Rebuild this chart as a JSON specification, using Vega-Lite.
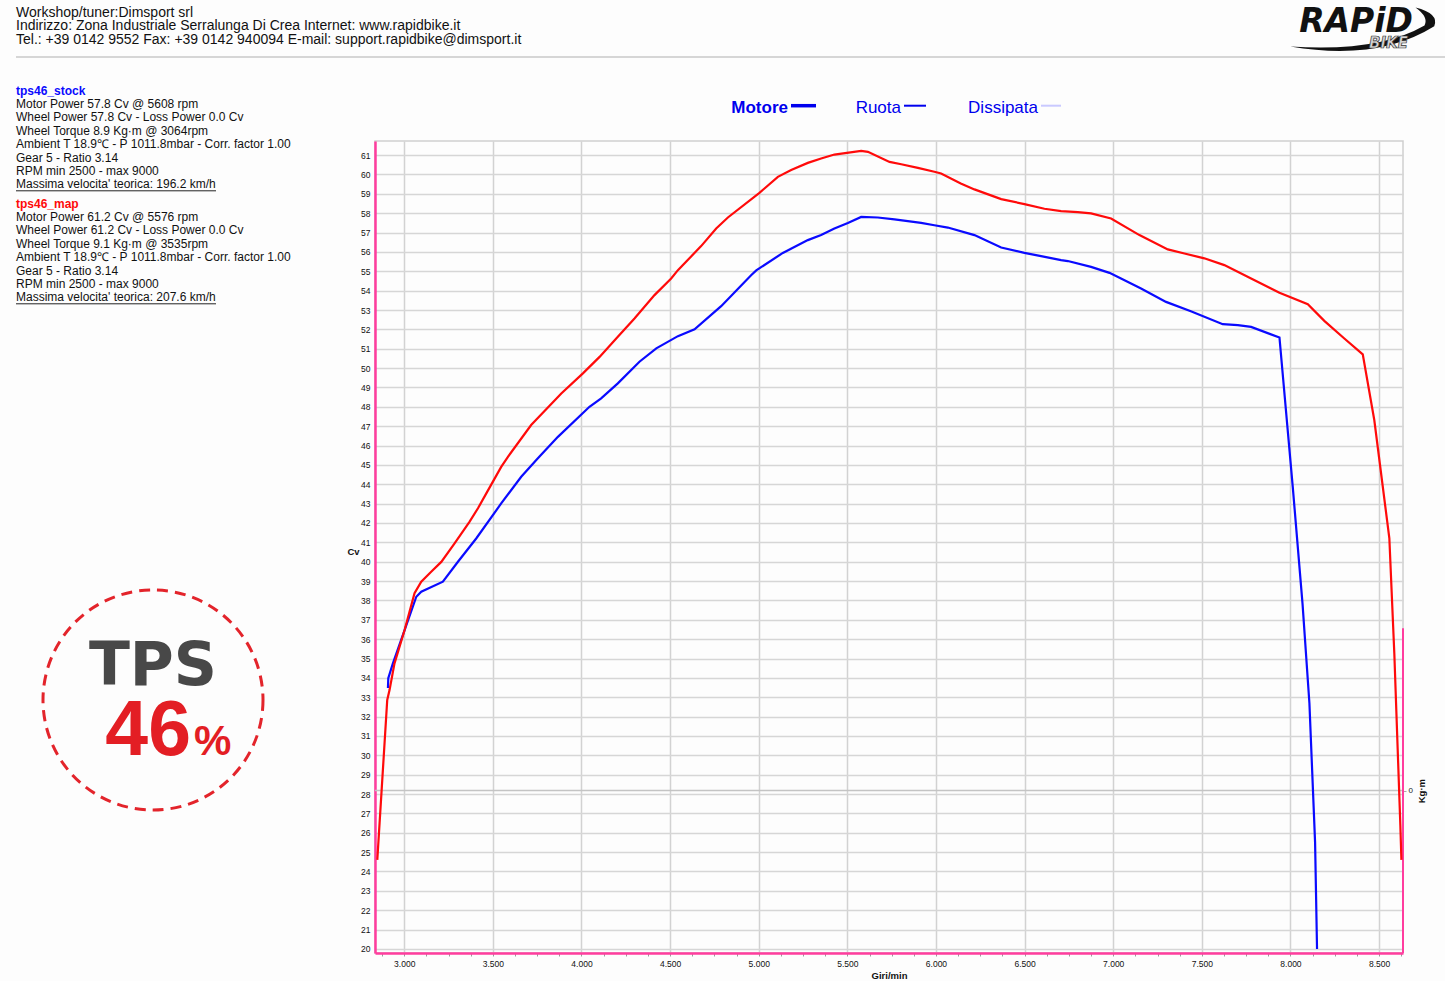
{
  "$schema": "https://vega.github.io/schema/vega-lite/v6.json",
  "background": "#fdfdfd",
  "padding": {"left": 15, "top": 0, "right": 0, "bottom": 0},
  "config": {
    "view": {"stroke": null},
    "font": "Liberation Sans",
    "axis": {"labelFont": "Liberation Sans", "titleFont": "Liberation Sans"}
  },
  "datasets": {
    "header": [
      {"side": "left", "line": 0, "text": "Workshop/tuner:Dimsport srl"},
      {"side": "left", "line": 1, "text": "Indirizzo: Zona Industriale Serralunga Di Crea Internet: www.rapidbike.it"},
      {"side": "left", "line": 2, "text": "Tel.: +39 0142 9552 Fax: +39 0142 940094 E-mail: support.rapidbike@dimsport.it"}
    ],
    "logo": [
      {"side": "right", "part": "word", "text": "RAPiD"},
      {"side": "right", "part": "sub", "text": "BIKE"},
      {"side": "right", "part": "swoosh", "text": ""}
    ],
    "separator": [{"element": "separator"}],
    "info": [
      {"block": "tps46_stock", "line": 0, "text": "tps46_stock"},
      {"block": "tps46_stock", "line": 1, "text": "Motor Power 57.8 Cv  @ 5608 rpm"},
      {"block": "tps46_stock", "line": 2, "text": "Wheel Power 57.8 Cv  - Loss Power 0.0 Cv"},
      {"block": "tps46_stock", "line": 3, "text": "Wheel Torque 8.9 Kg·m  @ 3064rpm"},
      {"block": "tps46_stock", "line": 4, "text": "Ambient T 18.9℃ - P 1011.8mbar - Corr. factor 1.00"},
      {"block": "tps46_stock", "line": 5, "text": "Gear 5 - Ratio 3.14"},
      {"block": "tps46_stock", "line": 6, "text": "RPM min 2500 - max 9000"},
      {"block": "tps46_stock", "line": 7, "text": "Massima velocita' teorica: 196.2 km/h"},
      {"block": "tps46_map", "line": 0, "text": "tps46_map"},
      {"block": "tps46_map", "line": 1, "text": "Motor Power 61.2 Cv  @ 5576 rpm"},
      {"block": "tps46_map", "line": 2, "text": "Wheel Power 61.2 Cv  - Loss Power 0.0 Cv"},
      {"block": "tps46_map", "line": 3, "text": "Wheel Torque 9.1 Kg·m  @ 3535rpm"},
      {"block": "tps46_map", "line": 4, "text": "Ambient T 18.9℃ - P 1011.8mbar - Corr. factor 1.00"},
      {"block": "tps46_map", "line": 5, "text": "Gear 5 - Ratio 3.14"},
      {"block": "tps46_map", "line": 6, "text": "RPM min 2500 - max 9000"},
      {"block": "tps46_map", "line": 7, "text": "Massima velocita' teorica: 207.6 km/h"}
    ],
    "badge": [
      {"part": "ring", "label": ""},
      {"part": "word", "label": "TPS"},
      {"part": "number", "label": "46"},
      {"part": "unit", "label": "%"}
    ],
    "legend": [
      {"item": "Motore"},
      {"item": "Ruota"},
      {"item": "Dissipata"}
    ],
    "torque": [{"kgm": 0}],
    "torqueAxis": [{"kgm_low": -2, "kgm_high": 2}],
    "curves": [
      {"run": "tps46_stock", "rpm": 2908, "cv": 33.48},
      {"run": "tps46_stock", "rpm": 2910, "cv": 33.98},
      {"run": "tps46_stock", "rpm": 2936, "cv": 34.75},
      {"run": "tps46_stock", "rpm": 3002, "cv": 36.47},
      {"run": "tps46_stock", "rpm": 3068, "cv": 38.19},
      {"run": "tps46_stock", "rpm": 3096, "cv": 38.45},
      {"run": "tps46_stock", "rpm": 3218, "cv": 38.97},
      {"run": "tps46_stock", "rpm": 3303, "cv": 40.0},
      {"run": "tps46_stock", "rpm": 3406, "cv": 41.2},
      {"run": "tps46_stock", "rpm": 3547, "cv": 43.01},
      {"run": "tps46_stock", "rpm": 3660, "cv": 44.39},
      {"run": "tps46_stock", "rpm": 3754, "cv": 45.34},
      {"run": "tps46_stock", "rpm": 3867, "cv": 46.45},
      {"run": "tps46_stock", "rpm": 4045, "cv": 48.0},
      {"run": "tps46_stock", "rpm": 4111, "cv": 48.44},
      {"run": "tps46_stock", "rpm": 4205, "cv": 49.21},
      {"run": "tps46_stock", "rpm": 4327, "cv": 50.33},
      {"run": "tps46_stock", "rpm": 4422, "cv": 51.02},
      {"run": "tps46_stock", "rpm": 4544, "cv": 51.65},
      {"run": "tps46_stock", "rpm": 4638, "cv": 52.0},
      {"run": "tps46_stock", "rpm": 4788, "cv": 53.2},
      {"run": "tps46_stock", "rpm": 4957, "cv": 54.8},
      {"run": "tps46_stock", "rpm": 4986, "cv": 55.05},
      {"run": "tps46_stock", "rpm": 5136, "cv": 55.95},
      {"run": "tps46_stock", "rpm": 5277, "cv": 56.61},
      {"run": "tps46_stock", "rpm": 5352, "cv": 56.87},
      {"run": "tps46_stock", "rpm": 5427, "cv": 57.21},
      {"run": "tps46_stock", "rpm": 5503, "cv": 57.5},
      {"run": "tps46_stock", "rpm": 5578, "cv": 57.81},
      {"run": "tps46_stock", "rpm": 5672, "cv": 57.78},
      {"run": "tps46_stock", "rpm": 5766, "cv": 57.68},
      {"run": "tps46_stock", "rpm": 5916, "cv": 57.5},
      {"run": "tps46_stock", "rpm": 5991, "cv": 57.38},
      {"run": "tps46_stock", "rpm": 6067, "cv": 57.26},
      {"run": "tps46_stock", "rpm": 6217, "cv": 56.87},
      {"run": "tps46_stock", "rpm": 6368, "cv": 56.23},
      {"run": "tps46_stock", "rpm": 6499, "cv": 55.95},
      {"run": "tps46_stock", "rpm": 6593, "cv": 55.78},
      {"run": "tps46_stock", "rpm": 6706, "cv": 55.58},
      {"run": "tps46_stock", "rpm": 6744, "cv": 55.53},
      {"run": "tps46_stock", "rpm": 6875, "cv": 55.23},
      {"run": "tps46_stock", "rpm": 6979, "cv": 54.92},
      {"run": "tps46_stock", "rpm": 7044, "cv": 54.63},
      {"run": "tps46_stock", "rpm": 7157, "cv": 54.11},
      {"run": "tps46_stock", "rpm": 7298, "cv": 53.42},
      {"run": "tps46_stock", "rpm": 7438, "cv": 52.94},
      {"run": "tps46_stock", "rpm": 7618, "cv": 52.27},
      {"run": "tps46_stock", "rpm": 7703, "cv": 52.22},
      {"run": "tps46_stock", "rpm": 7778, "cv": 52.13},
      {"run": "tps46_stock", "rpm": 7938, "cv": 51.58},
      {"run": "tps46_stock", "rpm": 8013, "cv": 43.87},
      {"run": "tps46_stock", "rpm": 8068, "cv": 37.85},
      {"run": "tps46_stock", "rpm": 8107, "cv": 32.69},
      {"run": "tps46_stock", "rpm": 8139, "cv": 25.49},
      {"run": "tps46_stock", "rpm": 8150, "cv": 20.0},
      {"run": "tps46_map", "rpm": 2848, "cv": 24.6},
      {"run": "tps46_map", "rpm": 2904, "cv": 32.86},
      {"run": "tps46_map", "rpm": 2917, "cv": 33.37},
      {"run": "tps46_map", "rpm": 2945, "cv": 34.75},
      {"run": "tps46_map", "rpm": 3002, "cv": 36.47},
      {"run": "tps46_map", "rpm": 3058, "cv": 38.37},
      {"run": "tps46_map", "rpm": 3096, "cv": 38.97},
      {"run": "tps46_map", "rpm": 3152, "cv": 39.48},
      {"run": "tps46_map", "rpm": 3209, "cv": 39.99},
      {"run": "tps46_map", "rpm": 3284, "cv": 40.95},
      {"run": "tps46_map", "rpm": 3368, "cv": 42.06},
      {"run": "tps46_map", "rpm": 3416, "cv": 42.76},
      {"run": "tps46_map", "rpm": 3463, "cv": 43.53},
      {"run": "tps46_map", "rpm": 3547, "cv": 44.9},
      {"run": "tps46_map", "rpm": 3585, "cv": 45.42},
      {"run": "tps46_map", "rpm": 3716, "cv": 47.06},
      {"run": "tps46_map", "rpm": 3886, "cv": 48.69},
      {"run": "tps46_map", "rpm": 4008, "cv": 49.73},
      {"run": "tps46_map", "rpm": 4102, "cv": 50.58},
      {"run": "tps46_map", "rpm": 4205, "cv": 51.62},
      {"run": "tps46_map", "rpm": 4299, "cv": 52.56},
      {"run": "tps46_map", "rpm": 4412, "cv": 53.77},
      {"run": "tps46_map", "rpm": 4506, "cv": 54.63},
      {"run": "tps46_map", "rpm": 4544, "cv": 55.06},
      {"run": "tps46_map", "rpm": 4675, "cv": 56.3},
      {"run": "tps46_map", "rpm": 4760, "cv": 57.21},
      {"run": "tps46_map", "rpm": 4826, "cv": 57.78},
      {"run": "tps46_map", "rpm": 5004, "cv": 59.05},
      {"run": "tps46_map", "rpm": 5108, "cv": 59.88},
      {"run": "tps46_map", "rpm": 5183, "cv": 60.23},
      {"run": "tps46_map", "rpm": 5277, "cv": 60.6},
      {"run": "tps46_map", "rpm": 5352, "cv": 60.83},
      {"run": "tps46_map", "rpm": 5427, "cv": 61.03},
      {"run": "tps46_map", "rpm": 5578, "cv": 61.22},
      {"run": "tps46_map", "rpm": 5616, "cv": 61.17},
      {"run": "tps46_map", "rpm": 5738, "cv": 60.65},
      {"run": "tps46_map", "rpm": 5804, "cv": 60.53},
      {"run": "tps46_map", "rpm": 5898, "cv": 60.34},
      {"run": "tps46_map", "rpm": 5991, "cv": 60.14},
      {"run": "tps46_map", "rpm": 6029, "cv": 60.05},
      {"run": "tps46_map", "rpm": 6140, "cv": 59.54},
      {"run": "tps46_map", "rpm": 6217, "cv": 59.23},
      {"run": "tps46_map", "rpm": 6368, "cv": 58.73},
      {"run": "tps46_map", "rpm": 6499, "cv": 58.47},
      {"run": "tps46_map", "rpm": 6612, "cv": 58.23},
      {"run": "tps46_map", "rpm": 6706, "cv": 58.11},
      {"run": "tps46_map", "rpm": 6800, "cv": 58.06},
      {"run": "tps46_map", "rpm": 6875, "cv": 57.99},
      {"run": "tps46_map", "rpm": 6988, "cv": 57.73},
      {"run": "tps46_map", "rpm": 7148, "cv": 56.87},
      {"run": "tps46_map", "rpm": 7308, "cv": 56.13},
      {"run": "tps46_map", "rpm": 7402, "cv": 55.92},
      {"run": "tps46_map", "rpm": 7514, "cv": 55.67},
      {"run": "tps46_map", "rpm": 7627, "cv": 55.32},
      {"run": "tps46_map", "rpm": 7778, "cv": 54.63},
      {"run": "tps46_map", "rpm": 7938, "cv": 53.89},
      {"run": "tps46_map", "rpm": 8098, "cv": 53.3},
      {"run": "tps46_map", "rpm": 8191, "cv": 52.44},
      {"run": "tps46_map", "rpm": 8304, "cv": 51.53},
      {"run": "tps46_map", "rpm": 8408, "cv": 50.71},
      {"run": "tps46_map", "rpm": 8473, "cv": 47.32},
      {"run": "tps46_map", "rpm": 8558, "cv": 41.21},
      {"run": "tps46_map", "rpm": 8586, "cv": 35.27},
      {"run": "tps46_map", "rpm": 8620, "cv": 26.4},
      {"run": "tps46_map", "rpm": 8626, "cv": 24.6}
    ]
  },
  "spacing": 0,
  "bounds": "flush",
  "vconcat": [
    {
      "width": 1430,
      "height": 56,
      "layer": [
        {
          "data": {"name": "header"},
          "mark": {"type": "text", "align": "left", "baseline": "middle", "fontSize": 14, "color": "#111111"},
          "encoding": {
            "x": {"field": "side", "type": "nominal", "scale": {"type": "point", "domain": ["left", "right"], "padding": 0}, "axis": null},
            "y": {"field": "line", "type": "quantitative", "scale": {"domain": [0, 2], "range": [12.5, 39.5]}, "axis": null},
            "text": {"field": "text"}
          }
        },
        {
          "data": {"name": "logo"},
          "transform": [{"filter": "datum.part === 'swoosh'"}],
          "mark": {"type": "point", "shape": "M -0.97 0.22 Q 0.2 0.42 0.95 -0.05 Q 1.02 -0.22 0.7 -0.3 Q 0.88 -0.17 0.82 -0.06 Q 0.2 0.3 -0.97 0.22 Z", "filled": true, "color": "#111111", "size": 22500, "opacity": 1, "xOffset": -83, "yOffset": 2},
          "encoding": {
            "x": {"field": "side", "type": "nominal", "scale": {"type": "point", "domain": ["left", "right"], "padding": 0}, "axis": null}
          }
        },
        {
          "data": {"name": "logo"},
          "transform": [{"filter": "datum.part === 'word'"}],
          "mark": {"type": "text", "align": "right", "baseline": "alphabetic", "font": "DejaVu Sans", "fontSize": 33, "fontWeight": "bold", "fontStyle": "italic", "color": "#111111", "dx": -33, "dy": 4},
          "encoding": {
            "x": {"field": "side", "type": "nominal", "scale": {"type": "point", "domain": ["left", "right"], "padding": 0}, "axis": null},
            "text": {"field": "text"}
          }
        },
        {
          "data": {"name": "logo"},
          "transform": [{"filter": "datum.part === 'sub'"}],
          "mark": {"type": "text", "align": "right", "baseline": "alphabetic", "font": "DejaVu Sans", "fontSize": 15, "fontWeight": "bold", "fontStyle": "italic", "fill": "#d4d4d4", "stroke": "#333333", "strokeWidth": 0.7, "dx": -38, "dy": 20},
          "encoding": {
            "x": {"field": "side", "type": "nominal", "scale": {"type": "point", "domain": ["left", "right"], "padding": 0}, "axis": null},
            "text": {"field": "text"}
          }
        }
      ]
    },
    {
      "width": 1430,
      "height": 2,
      "data": {"name": "separator"},
      "mark": {"type": "rect", "color": "#d6d6d6"},
      "encoding": {}
    },
    {
      "columns": 2,
      "spacing": {"row": 0, "column": 85},
      "bounds": "flush",
      "concat": [
        {
          "width": 200,
          "height": 83,
          "data": {"name": "info"},
          "resolve": {"scale": {"x": "independent", "y": "independent"}},
          "layer": [
            {
              "transform": [{"filter": "datum.block === 'tps46_stock' && datum.line === 0"}],
              "mark": {"type": "text", "align": "left", "baseline": "middle", "fontSize": 12, "fontWeight": "bold", "color": "#0a0aff"},
              "encoding": {
                "x": {"field": "block", "type": "nominal", "scale": {"type": "point", "padding": 0, "align": 0}, "axis": null},
                "y": {"field": "line", "type": "quantitative", "scale": {"domain": [0, 7], "range": [32.5, 126.3]}, "axis": null},
                "text": {"field": "text"}
              }
            },
            {
              "transform": [{"filter": "datum.block === 'tps46_stock' && datum.line > 0"}],
              "mark": {"type": "text", "align": "left", "baseline": "middle", "fontSize": 12, "color": "#111111"},
              "encoding": {
                "x": {"field": "block", "type": "nominal", "scale": {"type": "point", "padding": 0, "align": 0}, "axis": null},
                "y": {"field": "line", "type": "quantitative", "scale": {"domain": [0, 7], "range": [32.5, 126.3]}, "axis": null},
                "text": {"field": "text"}
              }
            },
            {
              "transform": [{"filter": "datum.block === 'tps46_stock' && datum.line === 7"}],
              "mark": {"type": "rule", "color": "#222222", "strokeWidth": 1, "yOffset": 6.5},
              "encoding": {
                "y": {"field": "line", "type": "quantitative", "scale": {"domain": [0, 7], "range": [32.5, 126.3]}, "axis": null}
              }
            },
            {
              "transform": [{"filter": "datum.block === 'tps46_map' && datum.line === 0"}],
              "mark": {"type": "text", "align": "left", "baseline": "middle", "fontSize": 12, "fontWeight": "bold", "color": "#ff0a0a"},
              "encoding": {
                "x": {"field": "block", "type": "nominal", "scale": {"type": "point", "padding": 0, "align": 0}, "axis": null},
                "y": {"field": "line", "type": "quantitative", "scale": {"domain": [0, 7], "range": [145.5, 239.3]}, "axis": null},
                "text": {"field": "text"}
              }
            },
            {
              "transform": [{"filter": "datum.block === 'tps46_map' && datum.line > 0"}],
              "mark": {"type": "text", "align": "left", "baseline": "middle", "fontSize": 12, "color": "#111111"},
              "encoding": {
                "x": {"field": "block", "type": "nominal", "scale": {"type": "point", "padding": 0, "align": 0}, "axis": null},
                "y": {"field": "line", "type": "quantitative", "scale": {"domain": [0, 7], "range": [145.5, 239.3]}, "axis": null},
                "text": {"field": "text"}
              }
            },
            {
              "transform": [{"filter": "datum.block === 'tps46_map' && datum.line === 7"}],
              "mark": {"type": "rule", "color": "#222222", "strokeWidth": 1, "yOffset": 6.5},
              "encoding": {
                "y": {"field": "line", "type": "quantitative", "scale": {"domain": [0, 7], "range": [145.5, 239.3]}, "axis": null}
              }
            }
          ]
        },
        {
          "width": 1028,
          "height": 83,
          "data": {"name": "legend"},
          "encoding": {
            "x": {"field": "item", "type": "nominal", "scale": {"type": "point", "domain": ["Motore", "Ruota", "Dissipata"], "range": [413, 663], "padding": 0}, "axis": null}
          },
          "layer": [
            {
              "transform": [{"filter": "datum.item === 'Motore'"}],
              "mark": {"type": "text", "align": "right", "baseline": "alphabetic", "fontSize": 17, "fontWeight": "bold", "color": "#0000ee", "dy": 13.5},
              "encoding": {"text": {"field": "item"}}
            },
            {
              "transform": [{"filter": "datum.item === 'Ruota'"}],
              "mark": {"type": "text", "align": "right", "baseline": "alphabetic", "fontSize": 17, "color": "#0000ee", "dy": 13.5, "dx": -12},
              "encoding": {"text": {"field": "item"}}
            },
            {
              "transform": [{"filter": "datum.item === 'Dissipata'"}],
              "mark": {"type": "text", "align": "right", "baseline": "alphabetic", "fontSize": 17, "color": "#0000ee", "dy": 13.5},
              "encoding": {"text": {"field": "item"}}
            },
            {
              "transform": [{"filter": "datum.item === 'Motore'"}],
              "mark": {"type": "tick", "orient": "horizontal", "size": 25, "thickness": 3.5, "color": "#0000ee", "opacity": 1, "xOffset": 15.5, "yOffset": 6.2}
            },
            {
              "transform": [{"filter": "datum.item === 'Ruota'"}],
              "mark": {"type": "tick", "orient": "horizontal", "size": 22, "thickness": 2, "color": "#0000ee", "opacity": 1, "xOffset": 2, "yOffset": 6.2}
            },
            {
              "transform": [{"filter": "datum.item === 'Dissipata'"}],
              "mark": {"type": "tick", "orient": "horizontal", "size": 20, "thickness": 2, "color": "#c9c9ff", "opacity": 1, "xOffset": 13, "yOffset": 6.2}
            }
          ]
        },
        {
          "width": 274,
          "height": 812,
          "data": {"name": "badge"},
          "layer": [
            {
              "transform": [{"filter": "datum.part === 'ring'"}],
              "mark": {"type": "point", "shape": "circle", "filled": false, "size": 48400, "color": "#e3242b", "strokeWidth": 3, "strokeDash": [11, 7], "opacity": 1, "yOffset": 153},
              "encoding": {}
            },
            {
              "transform": [{"filter": "datum.part === 'word'"}],
              "mark": {"type": "text", "align": "center", "baseline": "alphabetic", "font": "DejaVu Sans", "fontWeight": "bold", "fontSize": 60, "color": "#484848", "dy": 138},
              "encoding": {"text": {"field": "label"}}
            },
            {
              "transform": [{"filter": "datum.part === 'number'"}],
              "mark": {"type": "text", "align": "right", "baseline": "alphabetic", "font": "Liberation Sans", "fontWeight": "bold", "fontSize": 77, "color": "#e31e24", "dx": 38, "dy": 208},
              "encoding": {"text": {"field": "label"}}
            },
            {
              "transform": [{"filter": "datum.part === 'unit'"}],
              "mark": {"type": "text", "align": "left", "baseline": "alphabetic", "font": "Liberation Sans", "fontWeight": "bold", "fontSize": 42, "color": "#e31e24", "dx": 41, "dy": 208},
              "encoding": {"text": {"field": "label"}}
            }
          ]
        },
        {
          "width": 1028,
          "height": 812,
          "view": {"stroke": "#cfcfcf", "strokeWidth": 1.5},
          "resolve": {"scale": {"y": "independent"}, "axis": {"y": "independent"}},
          "layer": [
            {
              "data": {"name": "torque"},
              "mark": {"type": "rule", "color": "#c4c4c4", "strokeWidth": 1.5},
              "encoding": {
                "y": {
                  "field": "kgm", "type": "quantitative",
                  "scale": {"domain": [-2, 8], "nice": false, "zero": false},
                  "axis": {
                    "orient": "right", "values": [0], "grid": false, "domain": false,
                    "tickSize": 3, "tickColor": "#aaaaaa", "labelFontSize": 8, "labelColor": "#222222", "labelPadding": 2,
                    "title": "Kg·m", "titleAngle": 270, "titleFontSize": 9.5, "titleFontWeight": "bold", "titleColor": "#111111",
                    "titleX": 18, "titleY": 649.6, "titleAlign": "center", "titleBaseline": "middle"
                  }
                }
              }
            },
            {
              "data": {"name": "torqueAxis"},
              "mark": {"type": "rule", "color": "#ff3d9e", "strokeWidth": 2},
              "encoding": {
                "x": {"value": "width"},
                "y": {"field": "kgm_low", "type": "quantitative", "scale": {"domain": [-2, 8], "nice": false, "zero": false}, "axis": null},
                "y2": {"field": "kgm_high"}
              }
            },
            {
              "data": {"name": "curves"},
              "mark": {"type": "line", "strokeWidth": 2.2, "clip": true},
              "encoding": {
                "x": {
                  "field": "rpm", "type": "quantitative",
                  "scale": {"domain": [2835, 8635], "nice": false, "zero": false},
                  "axis": {
                    "values": [2875, 3000, 3125, 3250, 3375, 3500, 3625, 3750, 3875, 4000, 4125, 4250, 4375, 4500, 4625, 4750, 4875, 5000, 5125, 5250, 5375, 5500, 5625, 5750, 5875, 6000, 6125, 6250, 6375, 6500, 6625, 6750, 6875, 7000, 7125, 7250, 7375, 7500, 7625, 7750, 7875, 8000, 8125, 8250, 8375, 8500, 8625],
                    "labelExpr": "datum.value % 500 === 0 ? replace(format(datum.value, ','), ',', '.') : ''",
                    "grid": true,
                    "gridColor": "#d2d2d2",
                    "gridWidth": 1.5,
                    "gridOpacity": {"condition": {"test": "datum.value % 500 === 0", "value": 1}, "value": 0},
                    "domainColor": "#ff3d9e", "domainWidth": 2.5,
                    "tickColor": "#9a9a9a", "tickSize": 3,
                    "labelFontSize": 8.5, "labelColor": "#111111", "labelPadding": 3, "labelFlush": false, "labelOverlap": false,
                    "title": "Giri/min", "titleFontSize": 9.5, "titleFontWeight": "bold", "titleColor": "#111111", "titlePadding": 3
                  }
                },
                "y": {
                  "field": "cv", "type": "quantitative",
                  "scale": {"domain": [19.79, 61.73], "nice": false, "zero": false},
                  "axis": {
                    "orient": "left",
                    "values": [20, 21, 22, 23, 24, 25, 26, 27, 28, 29, 30, 31, 32, 33, 34, 35, 36, 37, 38, 39, 40, 41, 42, 43, 44, 45, 46, 47, 48, 49, 50, 51, 52, 53, 54, 55, 56, 57, 58, 59, 60, 61],
                    "grid": true, "gridColor": "#d6d6d6", "gridWidth": 1.5,
                    "domainColor": "#ff3d9e", "domainWidth": 2.5,
                    "ticks": false, "labelPadding": 5, "labelFontSize": 8.5, "labelColor": "#111111", "labelOverlap": false,
                    "title": "Cv", "titleAngle": 0, "titleFontSize": 9.5, "titleFontWeight": "bold", "titleColor": "#111111",
                    "titleX": -22, "titleY": 410, "titleAlign": "center", "titleBaseline": "middle"
                  }
                },
                "color": {"field": "run", "type": "nominal", "scale": {"domain": ["tps46_stock", "tps46_map"], "range": ["#0a0aff", "#ff0a0a"]}, "legend": null}
              }
            }
          ]
        }
      ]
    }
  ]
}
